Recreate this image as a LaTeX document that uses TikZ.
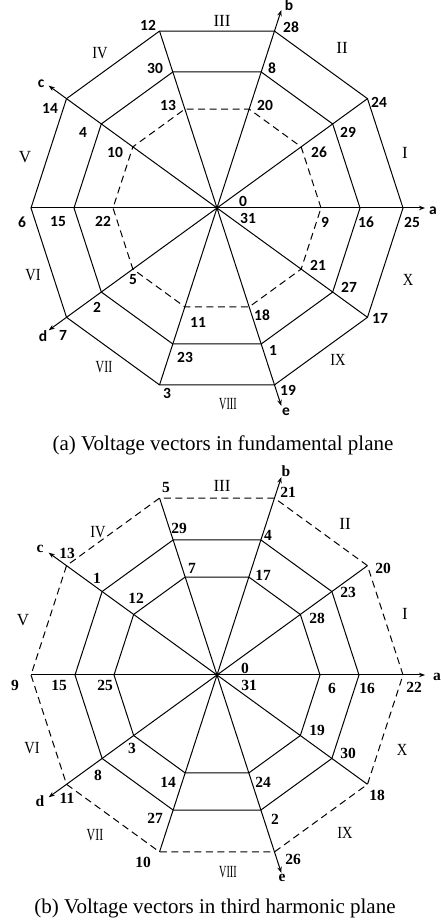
\documentclass[tikz,border=0pt]{standalone}
\usepackage{fontspec}
\setmainfont{Liberation Serif}
\newfontfamily\numfont{Carlito}
\usetikzlibrary{arrows.meta}

\begin{document}
\begin{tikzpicture}[x=1pt, y=1pt, line width=1pt,
	vec/.style={font=\numfont\bfseries\fontsize{15.5}{17}\selectfont, inner sep=0pt},
	vecb/.style={font=\bfseries\fontsize{15.5}{17}\selectfont, inner sep=0pt},
	sect/.style={font=\fontsize{17}{19}\selectfont, inner sep=0pt},
	axis/.style={-{Stealth[length=6pt, width=4.5pt]}},
	dsh/.style={dash pattern=on 7pt off 4.5pt},
	capt/.style={font=\fontsize{21}{24}\selectfont}]
	\useasboundingbox (0,0) rectangle (440,923);
	
	% fundamental plane
	\begin{scope}[shift={(217,715)}]
		\coordinate (aC) at (0,0);
		\foreach \k in {0,...,9} {
			\coordinate (aout\k) at (36*\k:186);
			\coordinate (amid\k) at (36*\k:143);
			\coordinate (ainn\k) at (36*\k:104);
			\coordinate (aend\k) at (36*\k:208);
		}
		\draw (aout0) \foreach \k in {1,...,9} { -- (aout\k) } -- cycle;
		\draw (amid0) \foreach \k in {1,...,9} { -- (amid\k) } -- cycle;
		\draw[dsh] (ainn0) \foreach \k in {1,...,9} { -- (ainn\k) } -- cycle;
		\foreach \k in {1,3,5,7,9}
			\draw (aC) -- (aout\k);
		\foreach \k in {0,2,4,6,8}
			\draw[axis] (aC) -- (aend\k);
		\foreach \t/\x/\y in {25/195/-14, 24/162/106, 28/74/181, 12/-69/183, 14/-167/100,
				6/-195/-14, 7/-154/-127, 3/-50/-185, 19/71/-182, 17/163/-110,
				16/149/-14, 29/131/76, 8/55/140, 30/-62/140, 4/-134/76,
				15/-159/-14, 2/-120/-99, 23/-32/-149, 1/56/-142, 27/132/-79,
				9/108/-14, 26/102/56, 20/48/103, 13/-49/103, 10/-102/56,
				22/-114/-13, 5/-84/-72, 11/-19/-114, 18/45/-107, 21/101/-57,
				0/26/7, 31/31/-10}
			\node[vec] (va\t) at (\x,\y) {\t};
		\foreach \s/\x/\y/\w in {I/188/55/1, II/125/160/1, III/5/187/1, IV/-117/155/0.85,
				V/-192/51/1, VI/-184/-67/0.85, VII/-113/-159/0.7, VIII/11/-196/0.6,
				IX/121/-152/0.85, X/191/-72/0.85}
			\node[sect] (sa\s) at (\x,\y) {\scalebox{\w}[1]{\s}};
		\foreach \n/\x/\y in {a/216/-3, b/72/203, c/-176/124, d/-174/-128, e/69/-204}
			\node[vec] (xa\n) at (\x,\y) {\n};
	\end{scope}
	\node[capt] (capa) at (223,478) {(a) Voltage vectors in fundamental plane};
	
	% third harmonic plane
	\begin{scope}[shift={(217,248)}]
		\coordinate (bC) at (0,0);
		\foreach \k in {0,...,9} {
			\coordinate (bout\k) at (36*\k:186);
			\coordinate (bmid\k) at (36*\k:142);
			\coordinate (binn\k) at (36*\k:103);
			\coordinate (bend\k) at (36*\k:208);
		}
		\draw[dsh] (bout0) \foreach \k in {1,...,9} { -- (bout\k) } -- cycle;
		\draw (bmid0) \foreach \k in {1,...,9} { -- (bmid\k) } -- cycle;
		\draw (binn0) \foreach \k in {1,...,9} { -- (binn\k) } -- cycle;
		\foreach \k in {1,3,5,7,9}
			\draw (bC) -- (bout\k);
		\foreach \k in {0,2,4,6,8}
			\draw[axis] (bC) -- (bend\k);
		\foreach \t/\x/\y in {22/197/-12, 20/166/107, 21/71/183, 5/-51/187, 13/-150/122,
				9/-202/-10, 11/-150/-123, 10/-74/-187, 26/76/-184, 18/160/-120,
				16/150/-13, 23/131/83, 4/51/140, 29/-38/147, 1/-120/97,
				15/-158/-10, 8/-119/-100, 27/-62/-143, 2/58/-144, 30/131/-78,
				6/115/-13, 28/100/57, 17/46/100, 7/-25/107, 12/-81/77,
				25/-112/-10, 3/-85/-73, 14/-49/-107, 24/46/-107, 19/100/-55,
				0/28/7, 31/32/-10}
			\node[vecb] (vb\t) at (\x,\y) {\t};
		\foreach \s/\x/\y/\w in {I/188/61/1, II/128/151/1, III/5/189/1, IV/-119/143/0.85,
				V/-194/55/1, VI/-185/-73/0.85, VII/-122/-160/0.7, VIII/11/-197/0.6,
				IX/128/-158/0.85, X/185/-75/0.85}
			\node[sect] (sb\s) at (\x,\y) {\scalebox{\w}[1]{\s}};
		\foreach \n/\x/\y in {a/220/-2, b/69/204, c/-177/126, d/-177/-126, e/65/-203}
			\node[vecb] (xb\n) at (\x,\y) {\n};
	\end{scope}
	\node[capt] (capb) at (215,15) {(b) Voltage vectors in third harmonic plane};
	
\end{tikzpicture}
\end{document}
